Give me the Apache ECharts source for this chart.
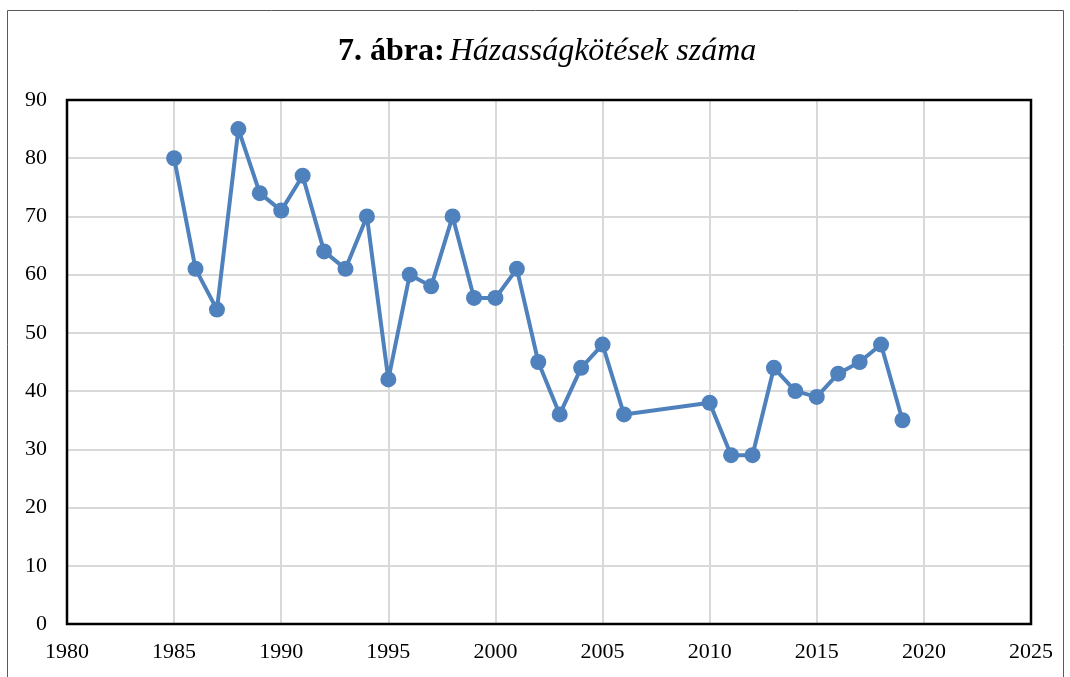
<!DOCTYPE html>
<html>
<head>
<meta charset="utf-8">
<script src="https://cdn.jsdelivr.net/npm/echarts@6/dist/echarts.min.js"></script>
<style>
  body { margin: 0; background: #fff; }
  #chart { width: 1070px; height: 677px; }
</style>
</head>
<body>
<div id="chart"></div>
<script>
const years = [1985, 1986, 1987, 1988, 1989, 1990, 1991, 1992, 1993, 1994, 1995, 1996, 1997, 1998, 1999, 2000,
  2001, 2002, 2003, 2004, 2005, 2006, 2010, 2011, 2012, 2013, 2014, 2015, 2016, 2017, 2018, 2019];
const marriages = [80, 61, 54, 85, 74, 71, 77, 64, 61, 70, 42, 60, 58, 70, 56, 56,
  61, 45, 36, 44, 48, 36, 38, 29, 29, 44, 40, 39, 43, 45, 48, 35];

const chart = echarts.init(document.getElementById('chart'));
const font = "'Liberation Serif', 'Times New Roman', serif";

// plot frame
const G = { left: 67, right: 39, top: 100, bottom: 53 };

chart.setOption({
  backgroundColor: '#fff',
  animation: false,
  title: {
    text: '{b|7. ábra:} {i|Házasságkötések száma}',
    left: 333,
    top: 31,
    textStyle: {
      rich: {
        b: { fontFamily: font, fontSize: 32, fontWeight: 'bold', color: '#000' },
        i: { fontFamily: font, fontSize: 32, fontStyle: 'italic', fontWeight: 'normal', color: '#000' }
      }
    }
  },
  graphic: [{
    type: 'rect',
    shape: { x: 7.5, y: 10.5, width: 1056, height: 700 },
    style: { fill: 'none', stroke: '#595959', lineWidth: 1 },
    silent: true
  }, {
    type: 'rect',
    z: 100,
    shape: { x: G.left, y: G.top, width: 1070 - G.left - G.right, height: 677 - G.top - G.bottom },
    style: { fill: 'none', stroke: '#000', lineWidth: 2.5 },
    silent: true
  }],
  grid: G,
  xAxis: {
    type: 'value',
    min: 1980, max: 2025, interval: 5,
    axisLine: { show: false },
    axisTick: { show: false },
    axisLabel: { color: '#000', fontFamily: font, fontSize: 22, margin: 17, formatter: v => String(v) },
    splitLine: { show: true, lineStyle: { color: '#D9D9D9', width: 2 } }
  },
  yAxis: {
    type: 'value',
    min: 0, max: 90, interval: 10,
    axisLine: { show: false },
    axisTick: { show: false },
    axisLabel: { color: '#000', fontFamily: font, fontSize: 22, margin: 20 },
    splitLine: { show: true, lineStyle: { color: '#D9D9D9', width: 2 } }
  },
  series: [{
    type: 'line',
    data: years.map((y, i) => [y, marriages[i]]),
    symbol: 'circle',
    symbolSize: 16,
    lineStyle: { color: '#4F81BD', width: 4 },
    itemStyle: { color: '#4F81BD' }
  }]
});
</script>
</body>
</html>
